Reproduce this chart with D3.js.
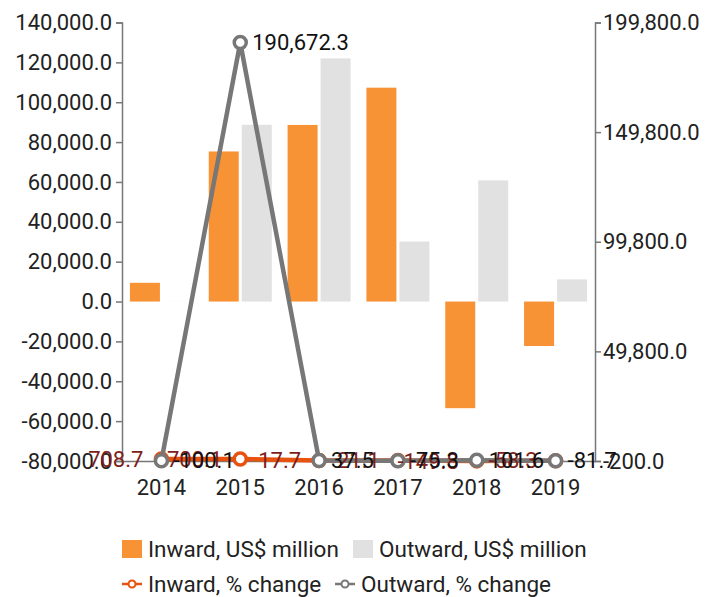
<!DOCTYPE html>
<html>
<head>
<meta charset="utf-8">
<script src="https://cdn.jsdelivr.net/npm/d3@7"></script>
<style>
  body { margin: 0; background: #fff; }
  text { font-family: Roboto, "Open Sans", sans-serif; }
  .axis text { font-size: 22px; fill: #222; }
  .axis path, .axis line { stroke: #777; stroke-width: 1.5; }
</style>
</head>
<body>
<div id="chart"></div>
<script>
// data
var years = ["2014", "2015", "2016", "2017", "2018", "2019"];
var inward = [9400, 75300, 88600, 107300, -53500, -22300];
var outward = [46.5, 88700, 122000, 30100, 60800, 11100];
var inwardChange = [708.7, 700.1, 17.7, 21.1, -149.8, -58.3];
var outwardChange = [-100.1, 190672.3, 37.5, -75.3, 101.6, -81.7];
var leftTicks = [-80000, -60000, -40000, -20000, 0, 20000, 40000, 60000, 80000, 100000, 120000, 140000];
var rightTicks = [-200, 49800, 99800, 149800, 199800];

var width = 721, height = 597;
var plotLeft = 122, plotRight = 595, plotTop = 22.5, plotBottom = 461;

var svg = d3.select("#chart").append("svg")
    .attr("width", width)
    .attr("height", height);

var x = d3.scaleBand().domain(years).range([plotLeft, plotRight]);
var yL = d3.scaleLinear().domain([-80000, 140000]).range([plotBottom, plotTop]);
var yR = d3.scaleLinear().domain([-200, 199800]).range([plotBottom, plotTop]);
var locale = d3.formatLocale({decimal: ".", thousands: ",", grouping: [3], currency: ["$", ""], minus: "-"});
var fmt = locale.format(",.1f");
var cx = function(i) { return x(years[i]) + x.bandwidth() / 2; };

var barW = 30;

// bars
svg.append("g").selectAll("rect")
    .data(inward)
    .enter().append("rect")
    .attr("x", function(d, i) { return cx(i) - barW - 1.5; })
    .attr("width", barW)
    .attr("y", function(d) { return yL(Math.max(0, d)); })
    .attr("height", function(d) { return Math.abs(yL(d) - yL(0)); })
    .attr("fill", "#f79235");

svg.append("g").selectAll("rect")
    .data(outward)
    .enter().append("rect")
    .attr("x", function(d, i) { return cx(i) + 1.5; })
    .attr("width", barW)
    .attr("y", function(d) { return yL(Math.max(0, d)); })
    .attr("height", function(d) { return Math.abs(yL(d) - yL(0)); })
    .attr("fill", "#e1e1e1");

// axes
svg.append("g")
    .attr("class", "axis")
    .attr("transform", "translate(" + plotLeft + ",0)")
    .call(d3.axisLeft(yL).tickValues(leftTicks).tickFormat(fmt).tickSize(6).tickPadding(4));

svg.append("g")
    .attr("class", "axis")
    .attr("transform", "translate(" + plotRight + ",0)")
    .call(d3.axisRight(yR).tickValues(rightTicks).tickFormat(fmt).tickSize(6).tickPadding(2));

var xAxis = svg.append("g")
    .attr("class", "axis")
    .attr("transform", "translate(0," + plotBottom + ")")
    .call(d3.axisBottom(x).tickSize(0).tickPadding(14));
xAxis.select(".domain").attr("stroke", "#999").attr("stroke-width", 1);
xAxis.selectAll("text").attr("dy", "0.9em");

// lines
var line = function(vals) {
    return d3.line()
        .x(function(d, i) { return cx(i); })
        .y(function(d) { return yR(d); })(vals);
};

function drawSeries(vals, color) {
    svg.append("path")
        .attr("d", line(vals))
        .attr("fill", "none")
        .attr("stroke", color)
        .attr("stroke-width", 4.5);
    svg.append("g").selectAll("circle")
        .data(vals)
        .enter().append("circle")
        .attr("cx", function(d, i) { return cx(i); })
        .attr("cy", function(d) { return yR(d); })
        .attr("r", 6)
        .attr("fill", "#fff")
        .attr("stroke", color)
        .attr("stroke-width", 3.5);
}
drawSeries(inwardChange, "#e8520f");
drawSeries(outwardChange, "#777");

// labels
svg.append("g").selectAll("text")
    .data(inwardChange)
    .enter().append("text")
    .attr("x", function(d, i) { return cx(i) - 18; })
    .attr("y", function(d) { return yR(d); })
    .attr("dy", "0.35em")
    .attr("text-anchor", "end")
    .attr("font-size", 22)
    .attr("fill", "#7e1d1a")
    .text(function(d) { return fmt(d); });

svg.append("g").selectAll("text")
    .data(outwardChange)
    .enter().append("text")
    .attr("x", function(d, i) { return cx(i) + 12; })
    .attr("y", function(d) { return yR(d); })
    .attr("dy", "0.35em")
    .attr("font-size", 22)
    .attr("fill", "#111")
    .text(function(d) { return fmt(d); });

// legend
var legend = svg.append("g").attr("font-size", 22.5).attr("fill", "#222");

legend.append("rect").attr("x", 122).attr("y", 540).attr("width", 20).attr("height", 18).attr("fill", "#f79235");
legend.append("text").attr("x", 148).attr("y", 557).text("Inward, US$ million");
legend.append("rect").attr("x", 353).attr("y", 540).attr("width", 20).attr("height", 18).attr("fill", "#e1e1e1");
legend.append("text").attr("x", 379).attr("y", 557).text("Outward, US$ million");

function lineKey(x0, color, label) {
    legend.append("line").attr("x1", x0).attr("x2", x0 + 20).attr("y1", 584).attr("y2", 584)
        .attr("stroke", color).attr("stroke-width", 2.5);
    legend.append("circle").attr("cx", x0 + 10).attr("cy", 584).attr("r", 3.5)
        .attr("fill", "#fff").attr("stroke", color).attr("stroke-width", 2);
    legend.append("text").attr("x", x0 + 26).attr("y", 592).text(label);
}
lineKey(122, "#e8520f", "Inward, % change");
lineKey(335, "#777", "Outward, % change");
</script>
</body>
</html>
